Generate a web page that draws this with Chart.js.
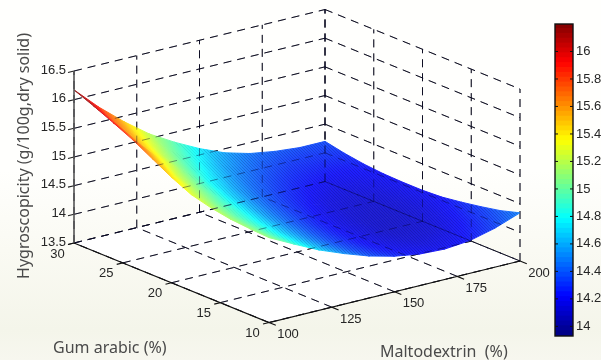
<!DOCTYPE html>
<html>
<head>
<meta charset="utf-8">
<style>
html,body{margin:0;padding:0;width:601px;height:360px;overflow:hidden;
background:linear-gradient(180deg,#fffffd 0,#fffffd 170px,#fafaf3 250px,#f4f5ea 330px,#f7f7ef 360px);}
canvas{position:absolute;left:0;top:0;}
</style>
<script src="https://cdn.jsdelivr.net/npm/chart.js@4"></script>
</head>
<body>
<canvas id="surface" width="601" height="360"></canvas>
<canvas id="bar" width="601" height="360"></canvas>
<script>
// ---- data ----
const maltodextrin = [100,110,120,130,140,150,160,170,180,190,200];
const gumArabic = [10,12,14,16,18,20,22,24,26,28,30];
const z_G10 = [14.98,14.76,14.55,14.38,14.23,14.12,14.05,14.03,14.07,14.18,14.34];
const z_G12 = [15.00,14.77,14.56,14.37,14.21,14.09,14.01,13.98,14.01,14.10,14.24];
const z_G14 = [15.03,14.80,14.58,14.38,14.21,14.08,13.99,13.95,13.96,14.04,14.17];
const z_G16 = [15.09,14.84,14.62,14.41,14.23,14.09,13.99,13.93,13.94,14.00,14.11];
const z_G18 = [15.18,14.91,14.68,14.45,14.26,14.11,14.00,13.94,13.93,13.97,14.06];
const z_G20 = [15.34,15.01,14.75,14.51,14.31,14.15,14.03,13.96,13.94,13.97,14.04];
const z_G22 = [15.53,15.13,14.84,14.58,14.37,14.20,14.08,13.99,13.96,13.98,14.04];
const z_G24 = [15.72,15.30,14.96,14.67,14.45,14.27,14.14,14.05,14.00,14.01,14.05];
const z_G26 = [15.88,15.44,15.09,14.80,14.56,14.36,14.22,14.12,14.07,14.05,14.08];
const z_G28 = [16.03,15.59,15.24,14.94,14.69,14.47,14.32,14.21,14.14,14.12,14.13];
const z_G30 = [16.17,15.76,15.40,15.08,14.83,14.61,14.43,14.31,14.24,14.20,14.20];
const zRows = [z_G10,z_G12,z_G14,z_G16,z_G18,z_G20,z_G22,z_G24,z_G26,z_G28,z_G30];

const mTicks = [100,125,150,175,200];
const gTicks = [10,15,20,25,30];
const zTicks = [13.5,14,14.5,15,15.5,16,16.5];
const zTickLabels = ['13.5','14','14.5','15','15.5','16','16.5'];
const barTicks = [14,14.2,14.4,14.6,14.8,15,15.2,15.4,15.6,15.8,16];
const zTitle = 'Hygroscopicity (g/100g,dry solid)';
const gTitle = 'Gum arabic (%)';
const mTitle = 'Maltodextrin  (%)';

// ---- view (orthographic projection calibrated to the picture) ----
const view = {x0:269,y0:322.5,mx:2.51,my:-0.615,gx:-9.75,gy:-3.975,zy:-57.33};
const cMin = 13.93, cMax = 16.2;          // colour bar limits
const sMin = 13.75, sMax = 16.15;         // colours as they appear on the surface
function P(m,g,z){
  return {x:view.x0+(m-100)*view.mx+(g-10)*view.gx,
          y:view.y0+(m-100)*view.my+(g-10)*view.gy+(z-13.5)*view.zy};
}
function jetParts(t){
  t=Math.max(0,Math.min(1,t));
  const f=(c)=>255*Math.max(0,Math.min(1,1.5-Math.abs(4*t-c)));
  return [f(3),f(2),f(1)];
}
function jet(t){
  const p=jetParts(t).map(Math.round);
  return `rgb(${p[0]},${p[1]},${p[2]})`;
}
const surfaceMix = 0.12;
const colourOf = z => {
  const p=jetParts((z-sMin)/(sMax-sMin)).map(v=>Math.round(v*(1-surfaceMix)+255*surfaceMix));
  return `rgb(${p[0]},${p[1]},${p[2]})`;
};

// ---- datasets, listed top-most first (earlier = drawn later) ----
const datasets = [];
function addLine(pts,width,colour,dash){
  datasets.push({data:pts,showLine:true,pointRadius:0,borderWidth:width,borderColor:colour,
    borderDash:dash||[],fill:false,tension:0,clip:false});
}
function addGrid(colour,w){
  const d=[8,6];
  for(const m of mTicks){
    addLine([P(m,10,13.5),P(m,30,13.5)],w,colour,d);
    addLine([P(m,30,13.5),P(m,30,16.5)],w,colour,d);
  }
  for(const g of gTicks){
    addLine([P(100,g,13.5),P(200,g,13.5)],w,colour,d);
    addLine([P(200,g,13.5),P(200,g,16.5)],w,colour,d);
  }
  for(const z of zTicks){
    addLine([P(100,30,z),P(200,30,z)],w,colour,d);
    addLine([P(200,30,z),P(200,10,z)],w,colour,d);
  }
}
// axes
addLine([P(100,30,13.5),P(100,10,13.5),P(200,10,13.5)],1.2,'#111');
addLine([P(100,30,13.5),P(100,30,16.5)],1.6,'#555');
for(const m of mTicks) addLine([P(m,10,13.5),P(m,9.3,13.5)],1.1,'#111');
for(const g of gTicks) addLine([P(100,g,13.5),P(97.6,g,13.5)],1.1,'#111');
for(const z of zTicks){const p=P(100,30,z);addLine([p,P(97.6,30,z)],1.1,'#222');}
// grid seen faintly through the surface
addGrid('rgba(0,0,50,0.42)',1);

// fine mesh texture of the surface, only noticeable on the blue part
function meshPattern(alpha){
  const t=document.createElement('canvas');t.width=3;t.height=3;
  const c=t.getContext('2d');
  c.fillStyle=`rgba(0,0,70,${alpha})`;
  c.fillRect(0,0,1,1);c.fillRect(1,1,1,1);c.fillRect(2,2,1,1);
  return c.createPattern(t,'repeat');
}
const meshLevels = [0.03,0.07,0.11,0.15,0.19].map(meshPattern);
for(let i=0;i<gumArabic.length-1;i++){
  for(let j=0;j<maltodextrin.length-1;j++){
    const z=(zRows[i][j]+zRows[i][j+1]+zRows[i+1][j+1]+zRows[i+1][j])/4;
    const level=Math.round((14.75-z)/0.1);
    if(level<0) continue;
    const pts=[P(maltodextrin[j],gumArabic[i],zRows[i][j]),P(maltodextrin[j+1],gumArabic[i],zRows[i][j+1]),
               P(maltodextrin[j+1],gumArabic[i+1],zRows[i+1][j+1]),P(maltodextrin[j],gumArabic[i+1],zRows[i+1][j])];
    datasets.push({data:[...pts,pts[0]],showLine:true,pointRadius:0,tension:0,clip:false,fill:'shape',
      backgroundColor:meshLevels[Math.min(level,4)],borderWidth:0});
  }
}

// surface triangles, near first; each takes the exact linear colour ramp of its three heights
function addTriangle(verts){
  const pts=verts.map(v=>P(v.m,v.g,v.z));
  const s=[0,1,2].sort((a,b)=>verts[a].z-verts[b].z);
  const lo=s[0],hi=s[2];
  const paint=(c)=>{
    const sx=c.chart.scales.x,sy=c.chart.scales.y;
    const flat=colourOf((verts[0].z+verts[1].z+verts[2].z)/3);
    if(!sx||!sy) return flat;
    const px=pts.map(p=>sx.getPixelForValue(p.x)),py=pts.map(p=>sy.getPixelForValue(p.y));
    if(![...px,...py].every(Number.isFinite)) return flat;
    const d=(px[1]-px[0])*(py[2]-py[0])-(px[2]-px[0])*(py[1]-py[0]);
    if(Math.abs(d)<1e-6) return flat;
    const dz1=verts[1].z-verts[0].z,dz2=verts[2].z-verts[0].z;
    const a=(dz1*(py[2]-py[0])-dz2*(py[1]-py[0]))/d;
    const b=(dz2*(px[1]-px[0])-dz1*(px[2]-px[0]))/d;
    const n=a*a+b*b;
    const span=verts[hi].z-verts[lo].z;
    if(n<1e-9||span<1e-6) return flat;
    const gr=c.chart.ctx.createLinearGradient(px[lo],py[lo],px[lo]+a*span/n,py[lo]+b*span/n);
    for(let k=0;k<=6;k++) gr.addColorStop(k/6,colourOf(verts[lo].z+span*k/6));
    return gr;
  };
  datasets.push({data:[...pts,pts[0]],showLine:true,pointRadius:0,tension:0,clip:false,fill:'shape',
    backgroundColor:paint,borderColor:paint,borderWidth:1});
}
for(let i=0;i<gumArabic.length-1;i++){
  for(let j=0;j<maltodextrin.length-1;j++){
    const V=(a,b)=>({m:maltodextrin[b],g:gumArabic[a],z:zRows[a][b]});
    addTriangle([V(i,j),V(i,j+1),V(i+1,j+1)]);
    addTriangle([V(i,j),V(i+1,j+1),V(i+1,j)]);
  }
}
// grid behind the surface
addGrid('#1a1a1a',1);
// white floor of the box
const white='#ffffff';
function addFace(pts){
  datasets.push({data:[...pts,pts[0]],showLine:true,pointRadius:0,borderWidth:0,tension:0,clip:false,fill:'shape',backgroundColor:white});
}
addFace([P(100,10,13.5),P(200,10,13.5),P(200,30,13.5),P(100,30,13.5)]);

const labels3d = {
  id:'labels3d',
  afterDraw(chart){
    const c=chart.ctx;
    c.save();
    c.fillStyle='#262626';
    c.font='13px "Liberation Sans", Arial, sans-serif';
    c.textBaseline='middle';
    c.textAlign='right';
    zTicks.forEach((z,i)=>{const p=P(100,30,z);c.fillText(zTickLabels[i],p.x-8,p.y-1);});
    c.textAlign='center';
    gTicks.forEach(g=>{const p=P(100,g,13.5);c.fillText(String(g),p.x-16.5,p.y+11);});
    mTicks.forEach(m=>{const p=P(m,10,13.5);c.fillText(String(m),p.x+19,p.y+12);});
    c.fillStyle='#4a4a4a';
    c.font='16px "Noto Sans", "Open Sans", sans-serif';
    c.textAlign='left';
    c.fillText(gTitle,53,348);
    c.fillText(mTitle,380,352);
    c.translate(24,156);
    c.rotate(-Math.PI/2);
    c.textAlign='center';
    c.fillText(zTitle,0,0);
    c.restore();
  }
};

new Chart(document.getElementById('surface'),{
  type:'scatter',
  data:{datasets},
  plugins:[labels3d],
  options:{
    responsive:false,animation:false,events:[],
    layout:{padding:0},
    plugins:{legend:{display:false},tooltip:{enabled:false}},
    scales:{
      x:{type:'linear',display:false,min:0,max:601},
      y:{type:'linear',display:false,min:0,max:360,reverse:true}
    }
  }
});

// ---- colour bar ----
const barLevels = 64;
const barSets = [];
for(let i=0;i<barLevels;i++){
  const lo=cMin+(cMax-cMin)*i/barLevels, hi=cMin+(cMax-cMin)*(i+1)/barLevels;
  barSets.push({data:[[lo,hi+0.004]],backgroundColor:jet((i+0.5)/barLevels),borderWidth:0,barPercentage:1,categoryPercentage:1,grouped:false});
}
const barFrame = {
  id:'barFrame',
  afterDraw(chart){
    const c=chart.ctx,a=chart.chartArea,s=chart.scales.y;
    c.save();
    c.strokeStyle='#111';
    c.lineWidth=1.4;
    c.strokeRect(a.left,a.top,a.right-a.left,a.bottom-a.top);
    c.lineWidth=1;
    c.beginPath();
    for(const t of barTicks){
      const y=s.getPixelForValue(t);
      c.moveTo(a.left,y);c.lineTo(a.left+3,y);
      c.moveTo(a.right,y);c.lineTo(a.right-3,y);
    }
    c.stroke();
    c.restore();
  }
};
new Chart(document.getElementById('bar'),{
  type:'bar',
  data:{labels:['c'],datasets:barSets},
  plugins:[barFrame],
  options:{
    responsive:false,animation:false,events:[],
    layout:{padding:{left:555,top:24,bottom:24,right:0}},
    plugins:{legend:{display:false},tooltip:{enabled:false}},
    scales:{
      x:{display:false},
      y:{
        position:'right',min:cMin,max:cMax,
        afterBuildTicks(s){s.ticks=barTicks.map(v=>({value:v}));},
        afterFit(s){s.width=28;},
        grid:{display:true,drawOnChartArea:false,drawTicks:false,tickLength:0,color:'rgba(0,0,0,0)'},border:{display:false},
        ticks:{autoSkip:false,padding:3,color:'#262626',font:{family:'"Liberation Sans", Arial, sans-serif',size:13},
          callback:v=>String(v)}
      }
    }
  }
});
</script>
</body>
</html>
